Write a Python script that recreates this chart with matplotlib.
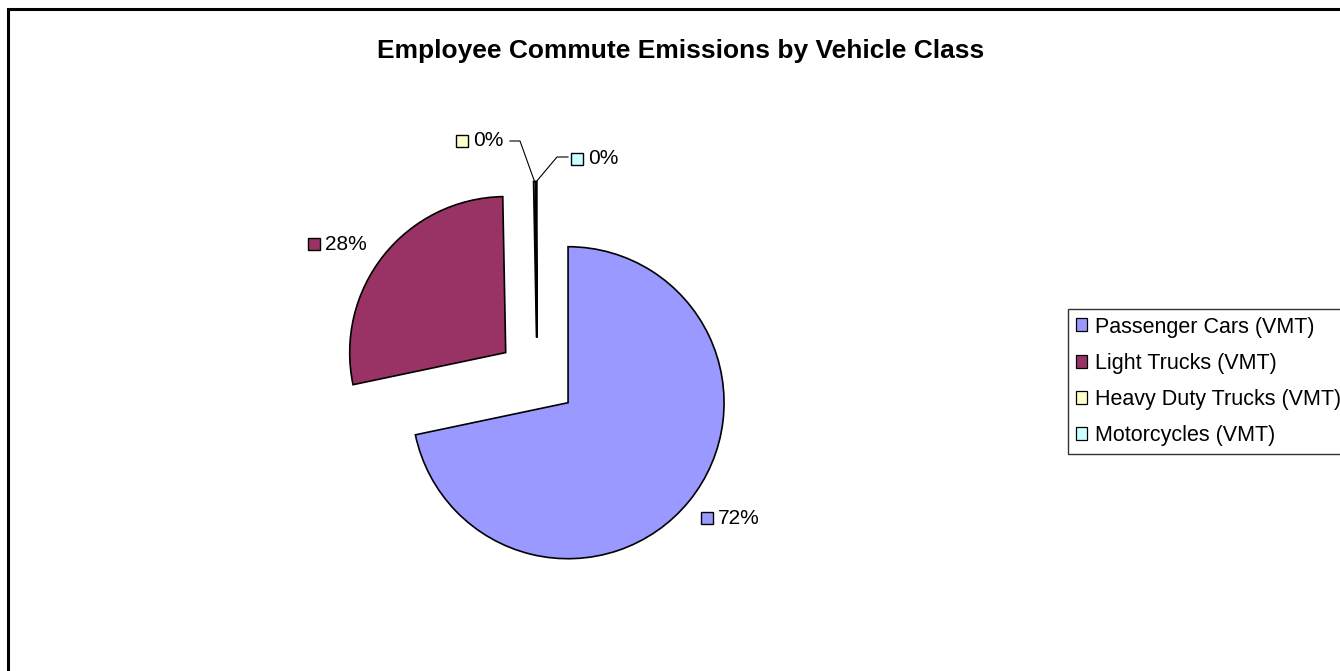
import numpy as np
import matplotlib
matplotlib.use("Agg")
import matplotlib.pyplot as plt
from matplotlib.patches import Patch, Rectangle

plt.rcParams['font.family'] = ['Liberation Sans', 'DejaVu Sans']

# data
categories = ["Passenger Cars (VMT)", "Light Trucks (VMT)",
              "Heavy Duty Trucks (VMT)", "Motorcycles (VMT)"]
shares = [71.7, 28.0, 0.2, 0.1]
colors = ["#9999FF", "#993366", "#FFFFCC", "#CCFFFF"]
title = "Employee Commute Emissions by Vehicle Class"

W, H = 1340, 671
fig = plt.figure(figsize=(W / 100, H / 100), dpi=100)
ax = fig.add_axes([0, 0, 1, 1])


def up(y):
    # image rows -> data y (axes run in pixels, y up)
    return H - y


wedges, _ = ax.pie(shares, colors=colors, startangle=90, counterclock=False,
                   radius=156, center=(537, up(377.5)), explode=[40] * 4,
                   wedgeprops=dict(edgecolor="black", linewidth=1.2), frame=True)
ax.set_xlim(0, W)
ax.set_ylim(0, H)
ax.axis("off")

# data labels with a little key square, Excel style
pct = [f"{round(s / sum(shares) * 100):.0f}%" for s in shares]
label_at = [(707, 518), (314, 244), (462, 141), (577, 159)]
for p, (lx, ly), c in zip(pct, label_at, colors):
    ax.plot(lx, up(ly), marker="s", ms=8, mfc=c, mec="black", mew=1.0)
    ax.text(lx + 11, up(ly), p, fontsize=15, va="center", ha="left")

# leader lines for the two tiny slices
leaders = {2: [(520, 141), (510, 141)], 3: [(557, 157), (568, 157)]}
for i, pts in leaders.items():
    w = wedges[i]
    th = np.deg2rad((w.theta1 + w.theta2) / 2)
    tip = (w.center[0] + w.r * np.cos(th), w.center[1] + w.r * np.sin(th))
    xs = [tip[0]] + [p[0] for p in pts]
    ys = [tip[1]] + [up(p[1]) for p in pts]
    ax.plot(xs, ys, color="black", lw=0.8)

ax.text(681, up(51), title, ha="center", va="center", fontsize=19, fontweight="bold")

# chart area border (runs off the right and bottom of the picture)
ax.add_patch(Rectangle((8, -30), W + 30, up(9) + 30, fill=False,
                       edgecolor="black", lw=2.2, clip_on=False))

handles = [Patch(facecolor=c, edgecolor="black", linewidth=0.9) for c in colors]
leg = fig.legend(handles, categories, loc="upper left",
                 bbox_to_anchor=(1068 / W, 1 - 309 / H), fontsize=15.5,
                 frameon=True, fancybox=False, edgecolor="black",
                 handlelength=0.55, handleheight=0.55, handletextpad=0.35,
                 labelspacing=0.71, borderpad=0.35, borderaxespad=0)
leg.get_frame().set_linewidth(1.0)

fig.savefig("out.png", dpi=100)
